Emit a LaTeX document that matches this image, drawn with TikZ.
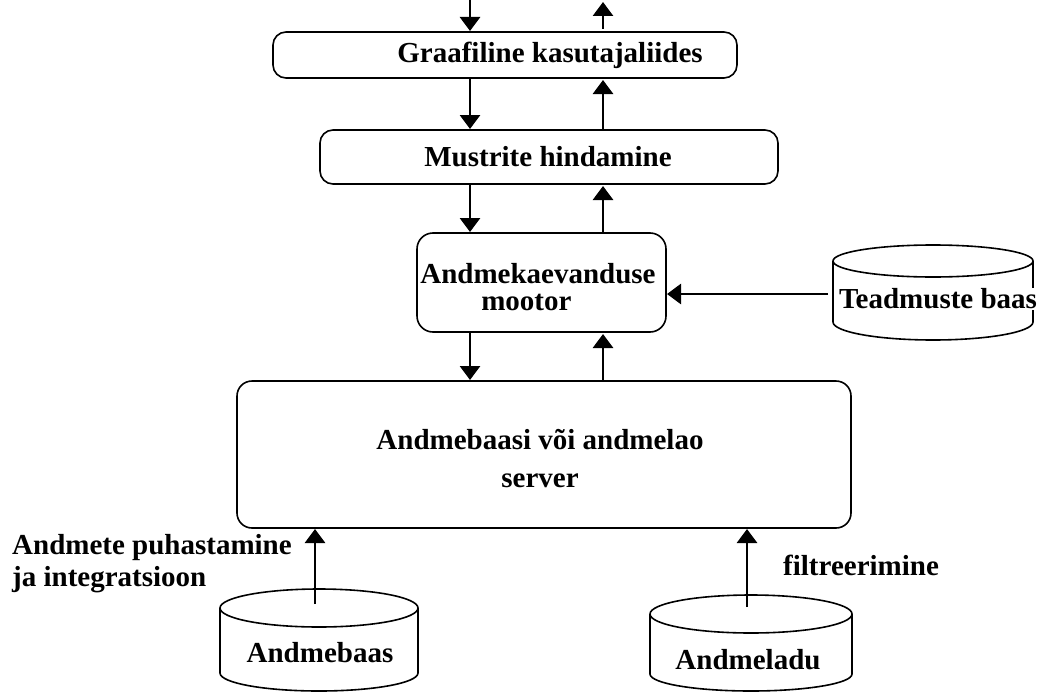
\documentclass[tikz,border=0pt]{standalone}
\usepackage{fontspec}
\setmainfont{Liberation Serif}
\usetikzlibrary{arrows.meta}
\tikzset{
  box/.style={draw, line width=1.6pt, rounded corners=13pt},
  lbl/.style={font=\fontsize{29}{30}\selectfont\bfseries, inner sep=0pt},
  flow/.style={line width=2.8pt, -{Triangle[width=20pt,length=14pt]}},
  cyl/.style={line width=1.6pt},
}
\begin{document}
\begin{tikzpicture}[x=1pt,y=-1pt]
\useasboundingbox (0,0) rectangle (1043,693);

% layered boxes
\draw[box] (273,32) rectangle (737,78);
\node[lbl] (gui) at (550,55) {Graafiline kasutajaliides};

\draw[box] (320,130) rectangle (778,184);
\node[lbl] (mus) at (548,157) {Mustrite hindamine};

\draw[box, rounded corners=16pt] (417,233) rectangle (666,332);
\node[lbl, align=center, font=\fontsize{29}{27}\selectfont\bfseries] (eng) at (538,287) {Andmekaevanduse\\mootor\hspace*{0.8em}};
\coordinate (engR) at (667,294);

\draw[box, rounded corners=15pt] (237,381) rectangle (851,528);
\node[lbl, align=center, font=\fontsize{29}{38}\selectfont\bfseries] (srv) at (540,459) {Andmebaasi või andmelao\\server};

% knowledge base cylinder
\draw[cyl] (833,261) -- (833,322) arc[start angle=180, end angle=0, x radius=100, y radius=18] -- (1033,261);
\draw[cyl] (933,261) ellipse[x radius=100, y radius=16];
\node[lbl, fill=white, inner sep=1pt] (kb) at (938,299) {Teadmuste baas};
\coordinate (kbL) at (828,294);

% database cylinder
\draw[cyl] (220,608) -- (220,673) arc[start angle=180, end angle=0, x radius=99, y radius=18] -- (418,608);
\draw[cyl] (319,608) ellipse[x radius=99, y radius=19];
\node[lbl] (db) at (320,653) {Andmebaas};

% data warehouse cylinder
\draw[cyl] (650,614) -- (650,674) arc[start angle=180, end angle=0, x radius=101, y radius=17] -- (852,614);
\draw[cyl] (751,614) ellipse[x radius=101, y radius=19];
\node[lbl] (dw) at (748,660) {Andmeladu};

% edge labels
\node[lbl, align=left, anchor=west, font=\fontsize{29}{32}\selectfont\bfseries] (clean) at (12,564) {Andmete puhastamine\\ja integratsioon};
\node[lbl, anchor=west] (filt) at (783,565) {filtreerimine};

% arrow end points
\coordinate (inTop) at (470,0);   \coordinate (inGui) at (470,31);
\coordinate (outGui) at (603,29); \coordinate (outTop) at (603,2);
\coordinate (a1) at (470,79);  \coordinate (a2) at (470,129);
\coordinate (b1) at (603,129); \coordinate (b2) at (603,80);
\coordinate (c1) at (470,185); \coordinate (c2) at (470,232);
\coordinate (d1) at (603,232); \coordinate (d2) at (603,186);
\coordinate (e1) at (470,333); \coordinate (e2) at (470,380);
\coordinate (f1) at (603,380); \coordinate (f2) at (603,334);
\coordinate (dbT) at (315,604); \coordinate (srvB1) at (315,529);
\coordinate (dwT) at (747,607); \coordinate (srvB2) at (747,529);

\draw[flow] (inTop) -- (inGui);
\draw[flow] (outGui) -- (outTop);
\draw[flow] (a1) -- (a2);
\draw[flow] (b1) -- (b2);
\draw[flow] (c1) -- (c2);
\draw[flow] (d1) -- (d2);
\draw[flow] (e1) -- (e2);
\draw[flow] (f1) -- (f2);
\draw[flow] (kbL) -- (engR);
\draw[flow] (dbT) -- (srvB1);
\draw[flow] (dwT) -- (srvB2);
\end{tikzpicture}
\end{document}
